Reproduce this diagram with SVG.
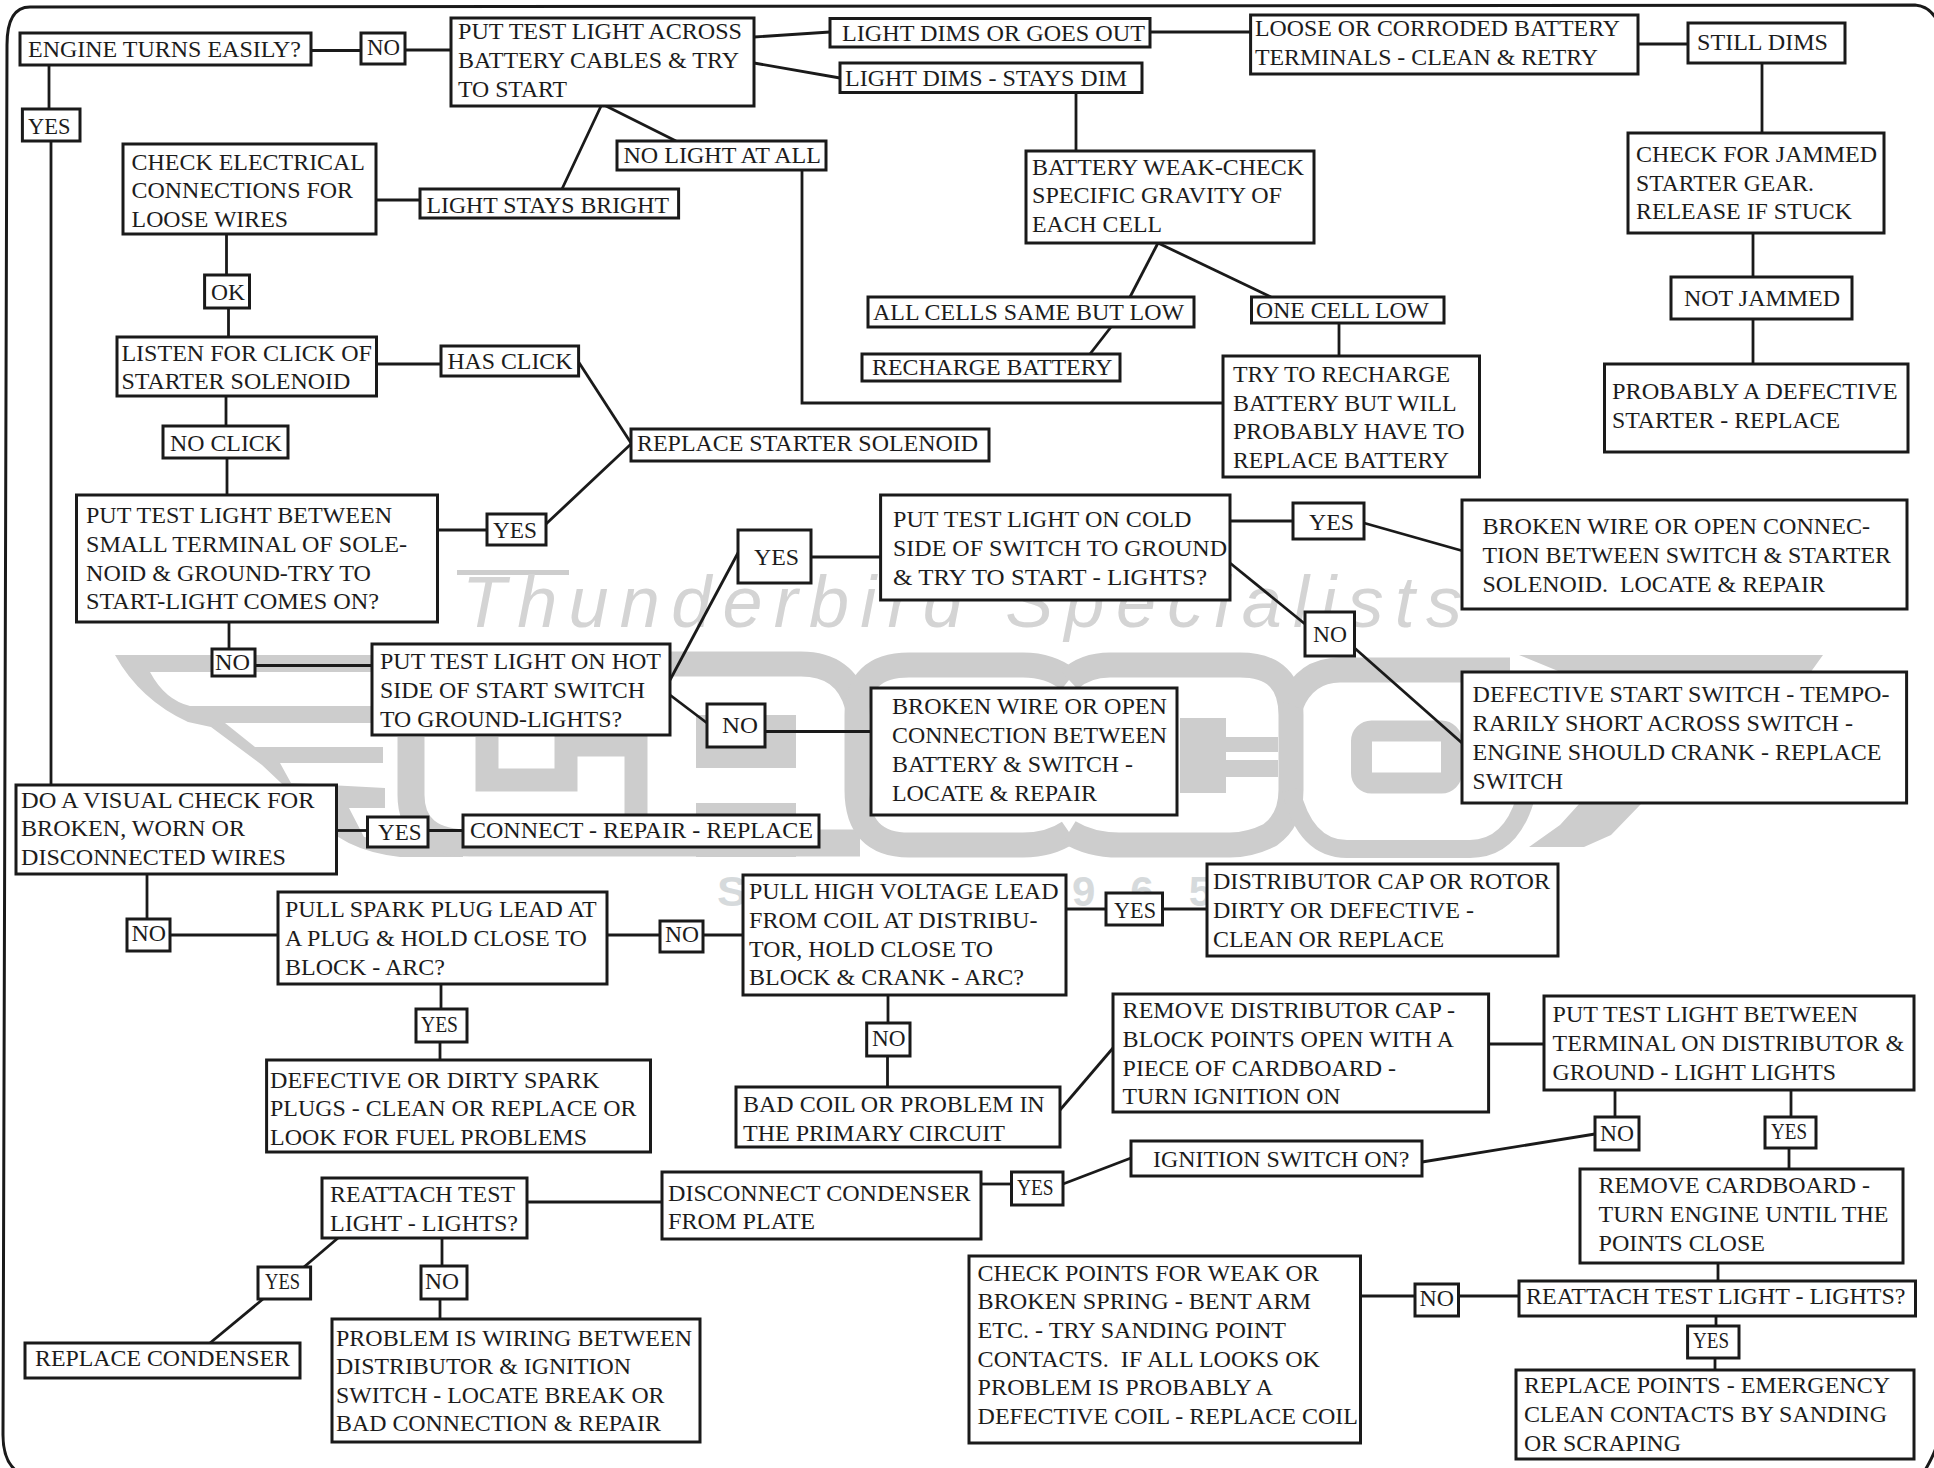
<svg xmlns="http://www.w3.org/2000/svg" width="1934" height="1468" viewBox="0 0 1934 1468">
<style>
.b{fill:#fff;stroke:#1a1a1a;stroke-width:3}
text{font-family:"Liberation Serif","Times New Roman",serif;font-size:24px;fill:#1c1c1c}
.c line,.c polyline{stroke:#1a1a1a;stroke-width:2.8;fill:none}
.wm{fill:#cdcdcd}
.ws{fill:none;stroke:#cdcdcd;stroke-width:25}
text.wt{font-family:"Liberation Sans",Arial,sans-serif;font-style:italic;font-size:72px;fill:#d4d4d4}
text.wy{font-family:"Liberation Sans",Arial,sans-serif;font-weight:bold;font-size:42px;fill:#d6dadc}
</style>
<rect width="1934" height="1468" fill="#fff"/>
<g id="watermark">
<rect class="wm" x="457" y="570" width="112" height="5"/>
<text class="wt" x="462" y="627" textLength="1000" lengthAdjust="spacing">Thunderbird Specialists</text>
<path class="wm" d="M115 655H372V672H150Q165 700 190 706H372V723H225L255 747H383V763H280L291 783 385 788V808H349L364 837 406 843 463 847V857H400Q340 850 315 815L262 765 211 727 188 722Q140 700 115 655Z"/>
<path class="ws" style="stroke-width:27" d="M411 737V795Q411 843 470 843H860"/>
<path class="ws" style="stroke-width:23" d="M487 737V780H566V745H636V815"/>
<path class="ws" d="M660 664H801Q845 664 857 705"/>
<rect class="wm" x="696" y="715" width="100" height="53"/>
<rect class="wm" x="696" y="803" width="100" height="54"/>
<path class="ws" d="M1069 680Q1050 665 1023 665H909Q857 665 857 715V790Q857 845 909 845H1023Q1050 845 1069 832"/>
<path class="ws" d="M1069 680Q1085 665 1110 665H1240Q1291 665 1291 715V790Q1291 820 1270 835 1250 845 1230 845H1119Q1090 845 1069 832"/>
<rect class="wm" x="1180" y="718" width="46" height="75"/>
<rect class="wm" x="1207" y="737" width="71" height="15"/>
<rect class="wm" x="1207" y="760" width="71" height="17"/>
<path class="ws" d="M1291 705Q1305 670 1340 670H1510"/>
<path class="ws" style="stroke-width:18" d="M1291 790Q1305 849 1347 849H1470Q1510 849 1525 800"/>
<rect class="ws" style="stroke-width:21" x="1361.5" y="731" width="90" height="52" rx="10"/>
<path class="wm" d="M1519 655H1823L1805 680 1642 803 1611 835 1584 847H1529L1560 825 1580 803V680Z"/>
<text class="wy" x="717" y="906" textLength="30" lengthAdjust="spacingAndGlyphs">S</text>
<text class="wy" x="1072" y="906" textLength="140" lengthAdjust="spacing">965</text>
</g>
<path id="frame" d="M7 45Q7 7 30 7L1915 5Q1930 6 1938 22V1440Q1936 1452 1924 1472H18Q3 1462 3 1435Z" fill="none" stroke="#1a1a1a" stroke-width="3"/>
<g id="connectors" class="c">
<line x1="49" y1="65" x2="49" y2="109"/>
<line x1="51" y1="141" x2="51" y2="785"/>
<line x1="311" y1="50.5" x2="361" y2="50.5"/>
<line x1="405" y1="50" x2="453" y2="50"/>
<line x1="754" y1="37" x2="830" y2="32"/>
<line x1="1150" y1="32" x2="1251" y2="32"/>
<line x1="754" y1="63" x2="840" y2="78"/>
<line x1="1638" y1="44" x2="1688" y2="44"/>
<line x1="1762" y1="63" x2="1762" y2="133"/>
<line x1="1753" y1="233" x2="1753" y2="277"/>
<line x1="1753" y1="319" x2="1753" y2="364"/>
<line x1="1076" y1="92" x2="1076" y2="151"/>
<line x1="1158" y1="243" x2="1130" y2="297"/>
<line x1="1111" y1="327" x2="1090" y2="354"/>
<line x1="1158" y1="243" x2="1271" y2="297"/>
<line x1="1339" y1="323" x2="1339" y2="356"/>
<polyline points="802,170 802,403 1223,403"/>
<line x1="602" y1="104" x2="676" y2="141"/>
<line x1="602" y1="104" x2="562" y2="189"/>
<line x1="376" y1="200" x2="420" y2="200"/>
<line x1="226.5" y1="234" x2="226.5" y2="275"/>
<line x1="228.5" y1="308" x2="228.5" y2="337"/>
<line x1="376" y1="364" x2="441" y2="364"/>
<line x1="578.6" y1="362" x2="631" y2="443"/>
<line x1="546" y1="524" x2="631" y2="444"/>
<line x1="438" y1="530" x2="487" y2="530"/>
<line x1="226" y1="396" x2="226" y2="426"/>
<line x1="227" y1="458" x2="227" y2="495"/>
<line x1="229" y1="622" x2="229" y2="649"/>
<line x1="255" y1="665.5" x2="372" y2="665.5"/>
<line x1="670" y1="680" x2="739" y2="551"/>
<line x1="670" y1="695" x2="707" y2="723"/>
<line x1="765" y1="731.5" x2="871" y2="731.5"/>
<line x1="811" y1="557" x2="881" y2="557"/>
<line x1="1231" y1="521" x2="1293" y2="521"/>
<line x1="1364" y1="523" x2="1463" y2="551"/>
<line x1="1230" y1="563" x2="1305" y2="624"/>
<line x1="1354.5" y1="648" x2="1462" y2="743"/>
<line x1="337" y1="830.5" x2="367.5" y2="830.5"/>
<line x1="428" y1="830.5" x2="463" y2="830.5"/>
<line x1="147" y1="874" x2="147" y2="919"/>
<line x1="170" y1="935" x2="278" y2="935"/>
<line x1="607" y1="935" x2="660" y2="935"/>
<line x1="703" y1="935" x2="743" y2="935"/>
<line x1="1066" y1="909" x2="1106" y2="909"/>
<line x1="1162" y1="909" x2="1207" y2="909"/>
<line x1="441" y1="984" x2="441" y2="1009"/>
<line x1="440" y1="1042" x2="440" y2="1060"/>
<line x1="888" y1="995" x2="888" y2="1023"/>
<line x1="887.5" y1="1056" x2="887.5" y2="1087"/>
<line x1="1060" y1="1110" x2="1113" y2="1048"/>
<line x1="1488.6" y1="1044" x2="1544" y2="1044"/>
<line x1="1615" y1="1090" x2="1615" y2="1117"/>
<line x1="1791" y1="1090" x2="1791" y2="1117"/>
<line x1="1789" y1="1148" x2="1789" y2="1169"/>
<line x1="1595" y1="1134" x2="1422" y2="1162"/>
<line x1="1131" y1="1158" x2="1063" y2="1184"/>
<line x1="981" y1="1184" x2="1011.5" y2="1184"/>
<line x1="527" y1="1202" x2="662" y2="1202"/>
<line x1="338" y1="1238" x2="304" y2="1267"/>
<line x1="263" y1="1299" x2="210" y2="1343"/>
<line x1="442" y1="1238" x2="442" y2="1266"/>
<line x1="440" y1="1299" x2="440" y2="1319"/>
<line x1="1718" y1="1263" x2="1718" y2="1281"/>
<line x1="1519" y1="1296" x2="1458" y2="1296"/>
<line x1="1415" y1="1296" x2="1360" y2="1296"/>
<line x1="1716" y1="1316" x2="1716" y2="1326"/>
<line x1="1715" y1="1358" x2="1715" y2="1370"/>
</g>
<g id="n-engine"><rect class="b" x="20" y="33" width="291" height="32"/><text x="28" y="57" textLength="273" lengthAdjust="spacingAndGlyphs">ENGINE TURNS EASILY?</text></g>
<g id="n-no1"><rect class="b" x="361" y="33" width="44" height="31"/><text x="367" y="55" textLength="33" lengthAdjust="spacingAndGlyphs">NO</text></g>
<g id="n-across"><rect class="b" x="451" y="18" width="303" height="88"/><text x="458" y="39" textLength="284" lengthAdjust="spacingAndGlyphs">PUT TEST LIGHT ACROSS</text><text x="458" y="68" textLength="281" lengthAdjust="spacingAndGlyphs">BATTERY CABLES &amp; TRY</text><text x="458" y="97" textLength="109" lengthAdjust="spacingAndGlyphs">TO START</text></g>
<g id="n-dimsout"><rect class="b" x="830" y="18.5" width="320" height="28.5"/><text x="842" y="41" textLength="303" lengthAdjust="spacingAndGlyphs">LIGHT DIMS OR GOES OUT</text></g>
<g id="n-staysdim"><rect class="b" x="840" y="63" width="302" height="29.5"/><text x="845" y="86" textLength="282" lengthAdjust="spacingAndGlyphs">LIGHT DIMS - STAYS DIM</text></g>
<g id="n-loose"><rect class="b" x="1250.6" y="15" width="387.4" height="59"/><text x="1255" y="36" textLength="365" lengthAdjust="spacingAndGlyphs">LOOSE OR CORRODED BATTERY</text><text x="1255" y="65" textLength="343" lengthAdjust="spacingAndGlyphs">TERMINALS - CLEAN &amp; RETRY</text></g>
<g id="n-stilldims"><rect class="b" x="1688" y="23" width="157" height="40"/><text x="1697" y="50" textLength="131" lengthAdjust="spacingAndGlyphs">STILL DIMS</text></g>
<g id="n-jammed"><rect class="b" x="1628" y="133" width="256" height="100"/><text x="1636" y="162" textLength="241" lengthAdjust="spacingAndGlyphs">CHECK FOR JAMMED</text><text x="1636" y="191" textLength="178" lengthAdjust="spacingAndGlyphs">STARTER GEAR.</text><text x="1636" y="219" textLength="216" lengthAdjust="spacingAndGlyphs">RELEASE IF STUCK</text></g>
<g id="n-notjammed"><rect class="b" x="1671" y="277" width="181" height="42"/><text x="1684" y="306" textLength="156" lengthAdjust="spacingAndGlyphs">NOT JAMMED</text></g>
<g id="n-defstarter"><rect class="b" x="1604.5" y="364" width="303.5" height="88"/><text x="1612" y="399" textLength="285.6" lengthAdjust="spacingAndGlyphs">PROBABLY A DEFECTIVE</text><text x="1612" y="428" textLength="228" lengthAdjust="spacingAndGlyphs">STARTER - REPLACE</text></g>
<g id="n-tryrecharge"><rect class="b" x="1223" y="356" width="256.5" height="121"/><text x="1233" y="382" textLength="217" lengthAdjust="spacingAndGlyphs">TRY TO RECHARGE</text><text x="1233" y="411" textLength="223.6" lengthAdjust="spacingAndGlyphs">BATTERY BUT WILL</text><text x="1233" y="439" textLength="231.5" lengthAdjust="spacingAndGlyphs">PROBABLY HAVE TO</text><text x="1233" y="468" textLength="216" lengthAdjust="spacingAndGlyphs">REPLACE BATTERY</text></g>
<g id="n-onecell"><rect class="b" x="1251.5" y="297" width="192.5" height="26"/><text x="1256" y="318" textLength="173" lengthAdjust="spacingAndGlyphs">ONE CELL LOW</text></g>
<g id="n-weak"><rect class="b" x="1026" y="151" width="288" height="92"/><text x="1032" y="175" textLength="272" lengthAdjust="spacingAndGlyphs">BATTERY WEAK-CHECK</text><text x="1032" y="203" textLength="250" lengthAdjust="spacingAndGlyphs">SPECIFIC GRAVITY OF</text><text x="1032" y="232" textLength="130" lengthAdjust="spacingAndGlyphs">EACH CELL</text></g>
<g id="n-allcells"><rect class="b" x="868" y="297" width="326" height="30"/><text x="873" y="320" textLength="311" lengthAdjust="spacingAndGlyphs">ALL CELLS SAME BUT LOW</text></g>
<g id="n-recharge"><rect class="b" x="862" y="354" width="258" height="27"/><text x="872" y="375" textLength="240.5" lengthAdjust="spacingAndGlyphs">RECHARGE BATTERY</text></g>
<g id="n-bright"><rect class="b" x="420" y="189" width="258.6" height="29"/><text x="426.5" y="213" textLength="242.5" lengthAdjust="spacingAndGlyphs">LIGHT STAYS BRIGHT</text></g>
<g id="n-nolight"><rect class="b" x="617" y="141" width="209" height="29"/><text x="623.5" y="163" textLength="197.5" lengthAdjust="spacingAndGlyphs">NO LIGHT AT ALL</text></g>
<g id="n-elec"><rect class="b" x="123" y="144" width="253" height="90"/><text x="131.6" y="170" textLength="233.4" lengthAdjust="spacingAndGlyphs">CHECK ELECTRICAL</text><text x="131.6" y="198" textLength="221.4" lengthAdjust="spacingAndGlyphs">CONNECTIONS FOR</text><text x="131.6" y="227" textLength="156.4" lengthAdjust="spacingAndGlyphs">LOOSE WIRES</text></g>
<g id="n-ok"><rect class="b" x="204.6" y="275" width="44.9" height="33"/><text x="211" y="300" textLength="34" lengthAdjust="spacingAndGlyphs">OK</text></g>
<g id="n-listen"><rect class="b" x="117" y="337" width="259.5" height="59"/><text x="121.4" y="361" textLength="250.6" lengthAdjust="spacingAndGlyphs">LISTEN FOR CLICK OF</text><text x="121.4" y="389" textLength="229" lengthAdjust="spacingAndGlyphs">STARTER SOLENOID</text></g>
<g id="n-hasclick"><rect class="b" x="441" y="346" width="137.6" height="30"/><text x="447.4" y="369" textLength="125" lengthAdjust="spacingAndGlyphs">HAS CLICK</text></g>
<g id="n-noclick"><rect class="b" x="163" y="426" width="125" height="32"/><text x="170" y="451" textLength="112" lengthAdjust="spacingAndGlyphs">NO CLICK</text></g>
<g id="n-replsol"><rect class="b" x="631" y="429" width="358" height="32"/><text x="637" y="451" textLength="341" lengthAdjust="spacingAndGlyphs">REPLACE STARTER SOLENOID</text></g>
<g id="n-yes1"><rect class="b" x="22.4" y="109" width="57.6" height="32"/><text x="28" y="134" textLength="42.4" lengthAdjust="spacingAndGlyphs">YES</text></g>
<g id="n-small"><rect class="b" x="76.5" y="495" width="361" height="127"/><text x="86" y="523" textLength="306" lengthAdjust="spacingAndGlyphs">PUT TEST LIGHT BETWEEN</text><text x="86" y="552" textLength="321" lengthAdjust="spacingAndGlyphs">SMALL TERMINAL OF SOLE-</text><text x="86" y="581" textLength="285" lengthAdjust="spacingAndGlyphs">NOID &amp; GROUND-TRY TO</text><text x="86" y="609" textLength="293" lengthAdjust="spacingAndGlyphs">START-LIGHT COMES ON?</text></g>
<g id="n-yes2"><rect class="b" x="487" y="514" width="59" height="31"/><text x="493" y="538" textLength="44" lengthAdjust="spacingAndGlyphs">YES</text></g>
<g id="n-no3"><rect class="b" x="212" y="649" width="43" height="27"/><text x="215" y="670" textLength="35" lengthAdjust="spacingAndGlyphs">NO</text></g>
<g id="n-hot"><rect class="b" x="372" y="644" width="298" height="91"/><text x="380" y="669" textLength="281" lengthAdjust="spacingAndGlyphs">PUT TEST LIGHT ON HOT</text><text x="380" y="698" textLength="265" lengthAdjust="spacingAndGlyphs">SIDE OF START SWITCH</text><text x="380" y="727" textLength="242" lengthAdjust="spacingAndGlyphs">TO GROUND-LIGHTS?</text></g>
<g id="n-yes3"><rect class="b" x="738" y="530" width="73" height="53"/><text x="754" y="565" textLength="45" lengthAdjust="spacingAndGlyphs">YES</text></g>
<g id="n-cold"><rect class="b" x="880.6" y="495" width="349.4" height="105"/><text x="893" y="527" textLength="298.5" lengthAdjust="spacingAndGlyphs">PUT TEST LIGHT ON COLD</text><text x="893" y="556" textLength="334" lengthAdjust="spacingAndGlyphs">SIDE OF SWITCH TO GROUND</text><text x="893" y="585" textLength="314" lengthAdjust="spacingAndGlyphs">&amp; TRY TO START - LIGHTS?</text></g>
<g id="n-yes4"><rect class="b" x="1293" y="503" width="71" height="36"/><text x="1309" y="530" textLength="45" lengthAdjust="spacingAndGlyphs">YES</text></g>
<g id="n-brokensol"><rect class="b" x="1462" y="500" width="445" height="109"/><text x="1482.5" y="534" textLength="387.5" lengthAdjust="spacingAndGlyphs">BROKEN WIRE OR OPEN CONNEC-</text><text x="1482.5" y="563" textLength="408.5" lengthAdjust="spacingAndGlyphs">TION BETWEEN SWITCH &amp; STARTER</text><text x="1482.5" y="592" textLength="342.5" lengthAdjust="spacingAndGlyphs" xml:space="preserve">SOLENOID.  LOCATE &amp; REPAIR</text></g>
<g id="n-no5"><rect class="b" x="1305" y="612" width="49.5" height="44"/><text x="1313" y="642" textLength="34" lengthAdjust="spacingAndGlyphs">NO</text></g>
<g id="n-defswitch"><rect class="b" x="1462" y="672" width="444.6" height="131"/><text x="1472.6" y="702" textLength="416.9" lengthAdjust="spacingAndGlyphs">DEFECTIVE START SWITCH - TEMPO-</text><text x="1472.6" y="731" textLength="380.4" lengthAdjust="spacingAndGlyphs">RARILY SHORT ACROSS SWITCH -</text><text x="1472.6" y="760" textLength="408.9" lengthAdjust="spacingAndGlyphs">ENGINE SHOULD CRANK - REPLACE</text><text x="1472.6" y="789" textLength="90.4" lengthAdjust="spacingAndGlyphs">SWITCH</text></g>
<g id="n-brokenbat"><rect class="b" x="871" y="688" width="306" height="127"/><text x="892" y="714" textLength="275" lengthAdjust="spacingAndGlyphs">BROKEN WIRE OR OPEN</text><text x="892" y="743" textLength="275" lengthAdjust="spacingAndGlyphs">CONNECTION BETWEEN</text><text x="892" y="772" textLength="241" lengthAdjust="spacingAndGlyphs">BATTERY &amp; SWITCH -</text><text x="892" y="801" textLength="205" lengthAdjust="spacingAndGlyphs">LOCATE &amp; REPAIR</text></g>
<g id="n-no4"><rect class="b" x="707" y="704" width="58" height="43"/><text x="722" y="733" textLength="36" lengthAdjust="spacingAndGlyphs">NO</text></g>
<g id="n-visual"><rect class="b" x="16" y="785" width="320.5" height="89"/><text x="21" y="808" textLength="293.5" lengthAdjust="spacingAndGlyphs">DO A VISUAL CHECK FOR</text><text x="21" y="836" textLength="224" lengthAdjust="spacingAndGlyphs">BROKEN, WORN OR</text><text x="21" y="865" textLength="265" lengthAdjust="spacingAndGlyphs">DISCONNECTED WIRES</text></g>
<g id="n-yes5"><rect class="b" x="367.5" y="817" width="60.5" height="30"/><text x="378" y="840" textLength="43.5" lengthAdjust="spacingAndGlyphs">YES</text></g>
<g id="n-connect"><rect class="b" x="463" y="815" width="356" height="32"/><text x="470" y="838" textLength="343" lengthAdjust="spacingAndGlyphs">CONNECT - REPAIR - REPLACE</text></g>
<g id="n-no6"><rect class="b" x="127" y="919" width="43" height="32"/><text x="131.5" y="941" textLength="34.5" lengthAdjust="spacingAndGlyphs">NO</text></g>
<g id="n-spark"><rect class="b" x="278" y="892" width="329" height="92"/><text x="285" y="917" textLength="311.6" lengthAdjust="spacingAndGlyphs">PULL SPARK PLUG LEAD AT</text><text x="285" y="946" textLength="302" lengthAdjust="spacingAndGlyphs">A PLUG &amp; HOLD CLOSE TO</text><text x="285" y="975" textLength="160" lengthAdjust="spacingAndGlyphs">BLOCK - ARC?</text></g>
<g id="n-no7"><rect class="b" x="660" y="921" width="43" height="31"/><text x="665" y="942" textLength="34" lengthAdjust="spacingAndGlyphs">NO</text></g>
<g id="n-hv"><rect class="b" x="743" y="875" width="323" height="120"/><text x="749" y="899" textLength="309.5" lengthAdjust="spacingAndGlyphs">PULL HIGH VOLTAGE LEAD</text><text x="749" y="928" textLength="288.5" lengthAdjust="spacingAndGlyphs">FROM COIL AT DISTRIBU-</text><text x="749" y="957" textLength="244" lengthAdjust="spacingAndGlyphs">TOR, HOLD CLOSE TO</text><text x="749" y="985" textLength="275" lengthAdjust="spacingAndGlyphs">BLOCK &amp; CRANK - ARC?</text></g>
<g id="n-yes6"><rect class="b" x="1106" y="893" width="56.5" height="32"/><text x="1114" y="918" textLength="42" lengthAdjust="spacingAndGlyphs">YES</text></g>
<g id="n-rotor"><rect class="b" x="1207" y="864" width="351" height="92"/><text x="1213" y="889" textLength="337" lengthAdjust="spacingAndGlyphs">DISTRIBUTOR CAP OR ROTOR</text><text x="1213" y="918" textLength="261" lengthAdjust="spacingAndGlyphs">DIRTY OR DEFECTIVE -</text><text x="1213" y="947" textLength="231" lengthAdjust="spacingAndGlyphs">CLEAN OR REPLACE</text></g>
<g id="n-yes7"><rect class="b" x="416" y="1009" width="51" height="33"/><text x="421" y="1032" textLength="37" lengthAdjust="spacingAndGlyphs">YES</text></g>
<g id="n-plugs"><rect class="b" x="266.6" y="1060" width="383.9" height="92"/><text x="270" y="1088" textLength="329.5" lengthAdjust="spacingAndGlyphs">DEFECTIVE OR DIRTY SPARK</text><text x="270" y="1116" textLength="366.5" lengthAdjust="spacingAndGlyphs">PLUGS - CLEAN OR REPLACE OR</text><text x="270" y="1145" textLength="317" lengthAdjust="spacingAndGlyphs">LOOK FOR FUEL PROBLEMS</text></g>
<g id="n-no8"><rect class="b" x="866.7" y="1023" width="43.3" height="33"/><text x="872" y="1046" textLength="33.6" lengthAdjust="spacingAndGlyphs">NO</text></g>
<g id="n-badcoil"><rect class="b" x="736" y="1087" width="324" height="60"/><text x="743" y="1112" textLength="301.7" lengthAdjust="spacingAndGlyphs">BAD COIL OR PROBLEM IN</text><text x="743" y="1141" textLength="262" lengthAdjust="spacingAndGlyphs">THE PRIMARY CIRCUIT</text></g>
<g id="n-removecap"><rect class="b" x="1113" y="994" width="375.6" height="118"/><text x="1122.6" y="1018" textLength="332.4" lengthAdjust="spacingAndGlyphs">REMOVE DISTRIBUTOR CAP -</text><text x="1122.6" y="1047" textLength="331.4" lengthAdjust="spacingAndGlyphs">BLOCK POINTS OPEN WITH A</text><text x="1122.6" y="1076" textLength="273.4" lengthAdjust="spacingAndGlyphs">PIECE OF CARDBOARD -</text><text x="1122.6" y="1104" textLength="217.9" lengthAdjust="spacingAndGlyphs">TURN IGNITION ON</text></g>
<g id="n-terminal"><rect class="b" x="1544" y="996" width="370" height="94"/><text x="1552.6" y="1022" textLength="305.4" lengthAdjust="spacingAndGlyphs">PUT TEST LIGHT BETWEEN</text><text x="1552.6" y="1051" textLength="351.4" lengthAdjust="spacingAndGlyphs">TERMINAL ON DISTRIBUTOR &amp;</text><text x="1552.6" y="1080" textLength="283.4" lengthAdjust="spacingAndGlyphs">GROUND - LIGHT LIGHTS</text></g>
<g id="n-no9"><rect class="b" x="1595" y="1117" width="44" height="33"/><text x="1600" y="1141" textLength="34" lengthAdjust="spacingAndGlyphs">NO</text></g>
<g id="n-yes8"><rect class="b" x="1765" y="1117" width="51" height="31"/><text x="1771" y="1139" textLength="36" lengthAdjust="spacingAndGlyphs">YES</text></g>
<g id="n-ignition"><rect class="b" x="1131" y="1141" width="291" height="35"/><text x="1153" y="1167" textLength="256.5" lengthAdjust="spacingAndGlyphs">IGNITION SWITCH ON?</text></g>
<g id="n-yes9"><rect class="b" x="1011.5" y="1172" width="51.5" height="33"/><text x="1017" y="1195" textLength="36.6" lengthAdjust="spacingAndGlyphs">YES</text></g>
<g id="n-disconnect"><rect class="b" x="662" y="1172" width="319" height="67"/><text x="668" y="1201" textLength="302.7" lengthAdjust="spacingAndGlyphs">DISCONNECT CONDENSER</text><text x="668" y="1229" textLength="147" lengthAdjust="spacingAndGlyphs">FROM PLATE</text></g>
<g id="n-reattach1"><rect class="b" x="322" y="1178" width="205" height="60"/><text x="330" y="1202" textLength="185" lengthAdjust="spacingAndGlyphs">REATTACH TEST</text><text x="330" y="1231" textLength="188" lengthAdjust="spacingAndGlyphs">LIGHT - LIGHTS?</text></g>
<g id="n-yes10"><rect class="b" x="258" y="1267" width="52.6" height="32"/><text x="265" y="1289" textLength="35" lengthAdjust="spacingAndGlyphs">YES</text></g>
<g id="n-no10"><rect class="b" x="421" y="1266" width="46" height="33"/><text x="425" y="1289" textLength="34" lengthAdjust="spacingAndGlyphs">NO</text></g>
<g id="n-replcond"><rect class="b" x="25" y="1343" width="275" height="35"/><text x="35" y="1366" textLength="255" lengthAdjust="spacingAndGlyphs">REPLACE CONDENSER</text></g>
<g id="n-problem"><rect class="b" x="332" y="1319" width="368" height="123"/><text x="336" y="1346" textLength="356" lengthAdjust="spacingAndGlyphs">PROBLEM IS WIRING BETWEEN</text><text x="336" y="1374" textLength="295" lengthAdjust="spacingAndGlyphs">DISTRIBUTOR &amp; IGNITION</text><text x="336" y="1403" textLength="328.5" lengthAdjust="spacingAndGlyphs">SWITCH - LOCATE BREAK OR</text><text x="336" y="1431" textLength="325" lengthAdjust="spacingAndGlyphs">BAD CONNECTION &amp; REPAIR</text></g>
<g id="n-removecard"><rect class="b" x="1580" y="1169" width="323" height="94"/><text x="1598.5" y="1193" textLength="271.5" lengthAdjust="spacingAndGlyphs">REMOVE CARDBOARD -</text><text x="1598.5" y="1222" textLength="290" lengthAdjust="spacingAndGlyphs">TURN ENGINE UNTIL THE</text><text x="1598.5" y="1251" textLength="166.5" lengthAdjust="spacingAndGlyphs">POINTS CLOSE</text></g>
<g id="n-reattach2"><rect class="b" x="1519" y="1281" width="396.5" height="35"/><text x="1526" y="1304" textLength="379.5" lengthAdjust="spacingAndGlyphs">REATTACH TEST LIGHT - LIGHTS?</text></g>
<g id="n-no11"><rect class="b" x="1415" y="1284" width="43.5" height="32"/><text x="1419.5" y="1306" textLength="34.5" lengthAdjust="spacingAndGlyphs">NO</text></g>
<g id="n-points"><rect class="b" x="969" y="1256" width="391.5" height="187"/><text x="977.6" y="1281" textLength="341.4" lengthAdjust="spacingAndGlyphs">CHECK POINTS FOR WEAK OR</text><text x="977.6" y="1309" textLength="333.4" lengthAdjust="spacingAndGlyphs">BROKEN SPRING - BENT ARM</text><text x="977.6" y="1338" textLength="308.4" lengthAdjust="spacingAndGlyphs">ETC. - TRY SANDING POINT</text><text x="977.6" y="1367" textLength="342.4" lengthAdjust="spacingAndGlyphs" xml:space="preserve">CONTACTS.  IF ALL LOOKS OK</text><text x="977.6" y="1395" textLength="295.4" lengthAdjust="spacingAndGlyphs">PROBLEM IS PROBABLY A</text><text x="977.6" y="1424" textLength="380.4" lengthAdjust="spacingAndGlyphs">DEFECTIVE COIL - REPLACE COIL</text></g>
<g id="n-yes12"><rect class="b" x="1687.6" y="1326" width="51.4" height="32"/><text x="1693" y="1348" textLength="36" lengthAdjust="spacingAndGlyphs">YES</text></g>
<g id="n-replpoints"><rect class="b" x="1516" y="1370" width="398" height="89"/><text x="1524" y="1393" textLength="366" lengthAdjust="spacingAndGlyphs">REPLACE POINTS - EMERGENCY</text><text x="1524" y="1422" textLength="363" lengthAdjust="spacingAndGlyphs">CLEAN CONTACTS BY SANDING</text><text x="1524" y="1451" textLength="157" lengthAdjust="spacingAndGlyphs">OR SCRAPING</text></g>
</svg>
